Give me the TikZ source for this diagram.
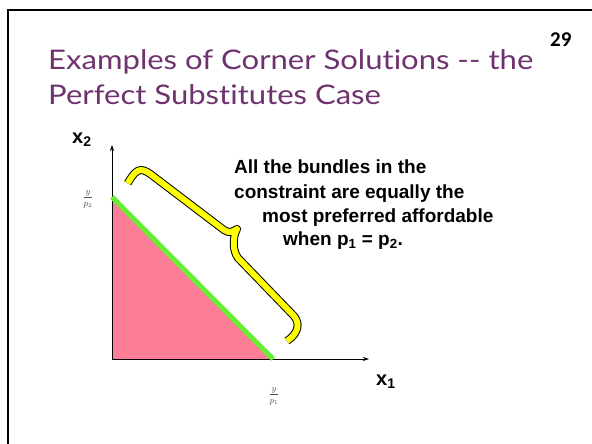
\documentclass[tikz,border=0pt]{standalone}
\usepackage{fontspec}
\setmainfont{Liberation Sans}
\newfontfamily\titlefont[FakeStretch=1.15,Ligatures=NoCommon]{Lato}
\newfontfamily\pagefont{Carlito}
\usepackage{xcolor}
\usetikzlibrary{arrows.meta,positioning}
\definecolor{titlepurple}{RGB}{110,50,110}
\definecolor{setpink}{RGB}{252,126,150}
\definecolor{linegreen}{RGB}{102,238,51}
\definecolor{braceyellow}{RGB}{255,255,0}

\begin{document}
\begin{tikzpicture}[x=1pt,y=-1pt,
title/.style={anchor=base west,inner sep=0pt,text=titlepurple,font=\titlefont\fontsize{27}{32}\selectfont},
note/.style={anchor=base west,inner sep=0pt,font=\bfseries\fontsize{19}{24}\selectfont},
axislabel/.style={anchor=base west,inner sep=0pt,font=\bfseries\fontsize{20}{24}\selectfont},
intercept/.style={inner sep=0pt,text=black!70,font=\fontsize{9}{10}\selectfont},
axis/.style={-{Stealth[length=6pt,width=4pt]},line width=.8pt},
brace/.style={draw=black,line width=1pt,double=braceyellow,double distance=6pt,line join=round}]
\useasboundingbox (0,0) rectangle (592,444);
% slide frame
\draw[line width=2pt](8,444)--(8,10.5)--(592,10.5);
\node[anchor=base west,inner sep=0pt,font=\pagefont\bfseries\fontsize{21}{24}\selectfont](page) at (550,47){29};
\node[title](title1) at (48,70){Examples of Corner Solutions -- the};
\node[title](title2) at (48,105){Perfect Substitutes Case};
% budget set
\coordinate(O) at (112,359);
\coordinate(ytop) at (112,145);
\coordinate(xend) at (369,359);
\coordinate(A) at (112,197);
\coordinate(B) at (273,359);
\fill[setpink](A)--(O)--(B)--cycle;
\draw[axis](O)--(ytop);
\draw[axis](O)--(xend);
\draw[linegreen,line width=5pt](A)--(B);
\node[axislabel](x2) at (72,143){x\textsubscript{2}};
\node[axislabel](x1) at (376,385){x\textsubscript{1}};
\node[intercept](a2) at (88,199){$\displaystyle\frac{y}{p_2}$};
\node[intercept](a1) at (274,396){$\displaystyle\frac{y}{p_1}$};
% brace along the constraint
\draw[brace](127.7,183.3)..controls(133,174)and(137,170)..(141,170)
  ..controls(145,170)and(149,173)..(153,176)--(224,230)
  ..controls(229,234)and(234,231)..(237,229)
  ..controls(233,236)and(232,250)..(238,258)--(294,316)
  ..controls(300,323)and(299,333)..(287,341);
\node[note](line1) at (234,173){All the bundles in the};
\node[note](line2) at (234,198){constraint are equally the};
\node[note](line3) at (262,222){most preferred affordable};
\node[note](line4) at (283,245){when p\textsubscript{1} = p\textsubscript{2}.};
\end{tikzpicture}
\end{document}
